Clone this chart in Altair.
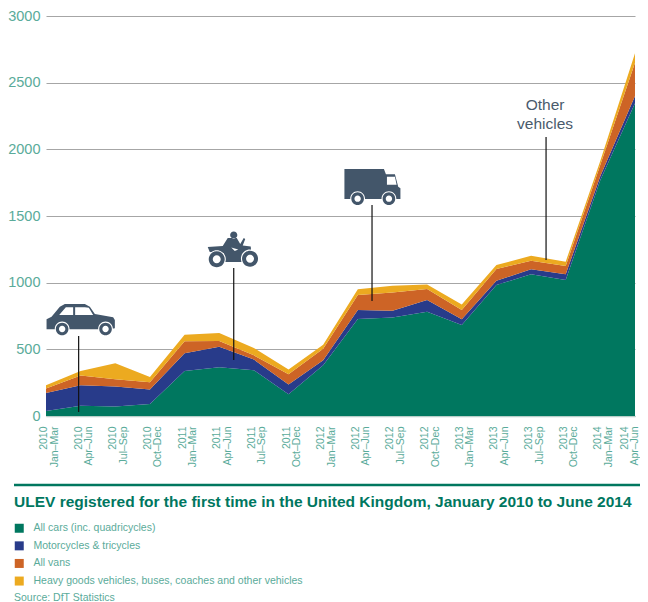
import altair as alt
import pandas as pd

periods = ["2010|Jan–Mar","2010|Apr–Jun","2010|Jul–Sep","2010|Oct–Dec",
           "2011|Jan–Mar","2011|Apr–Jun","2011|Jul–Sep","2011|Oct–Dec",
           "2012|Jan–Mar","2012|Apr–Jun","2012|Jul–Sep","2012|Oct–Dec",
           "2013|Jan–Mar","2013|Apr–Jun","2013|Jul–Sep","2013|Oct–Dec",
           "2014|Jan–Mar","2014|Apr–Jun"]
series_names = ["All cars (inc. quadricycles)", "Motorcycles & tricycles", "All vans",
                "Heavy goods vehicles, buses, coaches and other vehicles"]
colours = ["#00775f", "#283b8a", "#cd6426", "#ecaa20"]

cars = [37,77,72,90,338,366,343,164,380,727,738,782,682,982,1063,1020,1770,2345]
moto = [135,154,149,109,132,154,80,72,38,68,52,88,43,33,37,43,30,55]
vans = [34,72,55,55,90,42,32,77,87,112,137,82,70,87,65,62,85,250]
hgv  = [25,35,119,39,49,60,55,35,30,43,50,35,42,30,37,32,30,70]

LABEL = "#5aab9a"
DARK = "#43566a"
rows = []
for i, p in enumerate(periods):
    for k, vals in enumerate([cars, moto, vans, hgv]):
        rows.append({"period": p, "series": series_names[k], "value": vals[i], "k": k})
df = pd.DataFrame(rows)

xscale = alt.Scale(type="point", padding=0, domain=periods)
yscale = alt.Scale(domain=[0, 3000], nice=False)

area = alt.Chart(df).mark_area(opacity=1, interpolate="linear").encode(
    x=alt.X("period:O", scale=xscale, sort=periods, title=None,
            axis=alt.Axis(labelExpr="split(datum.label,'|')", labelAngle=270, labelAlign="right",
                          labelBaseline="middle", labelFont="Liberation Sans", labelFontSize=10.5,
                          labelLineHeight=10.5, labelColor=LABEL, labelPadding=10, labelOverlap=False,
                          labelBound=False, labelFlush=False, ticks=False, domainColor="#b9cfc9",
                          domainWidth=1.5, grid=False,
                          labelOffset={"condition": {"test": "datum.value == '2014|Apr–Jun'", "value": -11},
                                       "value": -2.5})),
    y=alt.Y("value:Q", stack="zero", scale=yscale, title=None,
            axis=alt.Axis(values=[0,500,1000,1500,2000,2500,3000], format="d", labelFont="Liberation Sans",
                          labelFontSize=14.5, labelColor=LABEL, labelPadding=6, ticks=False,
                          domain=False, grid=True, gridColor="#a6a6a6", gridWidth=1.2)),
    color=alt.Color("series:N", scale=alt.Scale(domain=series_names, range=colours),
                    legend=alt.Legend(title=None, orient="none", legendX=-32, legendY=507,
                                      symbolType="square", symbolSize=81, symbolStrokeWidth=0,
                                      labelFont="Liberation Sans", labelFontSize=10.5,
                                      labelColor=LABEL, rowPadding=6.6, labelLimit=400, labelOffset=9,
                                      padding=0, symbolOffset=0)),
    order=alt.Order("k:Q", sort="ascending"),
)

def circle(cx, cy, r):
    return f"M{cx-r} {cy}A{r} {r} 0 1 0 {cx+r} {cy}A{r} {r} 0 1 0 {cx-r} {cy}Z "

def wheels(centres, outer, hub):
    halo = "".join(circle(x, y, outer + 1.1) for x, y in centres)
    tyre = "".join(circle(x, y, outer) for x, y in centres)
    hubs = "".join(circle(x, y, hub) for x, y in centres)
    return [(halo, "white"), (tyre, DARK), (hubs, "white")]

car_body = "M-34.1 10.3L-34.1 .3L-29.1 -2.3L-20.8 -12.3L-15.8 -15L4.2 -15L9.2 -12.3L14.2 -5L32.5 -1.7L34.2 1L34.2 9.3L28.5 10.3Z"
car_win = "M-21.5 -4L-14.8 -11.7L-7.5 -11.7L-7.5 -4Z M-5.5 -11.7L4.2 -11.7L8.2 -11.3L12.5 -4L-5.5 -4Z"
truck_body = "M-28 -18L11.5 -18L13.5 -12.7L22.5 -12.7L25.8 -.3L28 1.3L28 12L-28 12Z"
truck_win = "M14.5 -10.3L22.5 -10.3L24.2 -2.3L14.5 -2.3Z"
moto_body = ("M-25 -3L-10 -4L-5 -12L4 -12L7.5 -6L11 -12L12.5 -11L10 -4.5L18 -3.5L18.3 0L11 3L9 12L-8 12L-9 3L-23 2Z "
             + circle(1, -15, 3.6))
moto_win = "M-1.5 -2.5L5.5 -.5L2 1Z"

icons = [
    ("2010|Apr–Jun", 0, 728, -2, 600, 30,
     [(car_body, DARK), (car_win, "white")] + wheels([(-18.5, 10), (24.9, 10)], 6.3, 3.2)),
    ("2011|Apr–Jun", 13.5, 1245, 14.5, 1110, 420,
     [(moto_body, DARK), (moto_win, "white")] + wheels([(-16, 9.3), (17.3, 8.7)], 8, 4)),
    ("2012|Apr–Jun", 14.6, 1718, 14.2, 1583, 863,
     [(truck_body, DARK), (truck_win, "white")] + wheels([(-14.8, 11.7), (16.5, 11.7)], 6.3, 3.2)),
]

layers = [area]
for period, dx, val, rdx, y1, y2, parts in icons:
    one = pd.DataFrame({"period": [period], "v": [val], "y1": [y1], "y2": [y2]})
    base = alt.Chart(one)
    layers.append(base.mark_rule(color="#111111", strokeWidth=1.2, xOffset=rdx).encode(
        x=alt.X("period:O", scale=xscale, sort=periods),
        y=alt.Y("y1:Q", scale=yscale), y2="y2:Q"))
    for path, col in parts:
        layers.append(base.mark_point(shape=path, size=4, filled=True, opacity=1, color=col,
                                      strokeWidth=0, xOffset=dx).encode(
            x=alt.X("period:O", scale=xscale, sort=periods),
            y=alt.Y("v:Q", scale=yscale)))

other = pd.DataFrame({"period": ["2013|Jul–Sep"], "v": [2330], "y1": [2093], "y2": [1170],
                      "t": ["Other\nvehicles"]})
layers.append(alt.Chart(other).mark_rule(color="#111111", strokeWidth=1.2, xOffset=15).encode(
    x=alt.X("period:O", scale=xscale, sort=periods),
    y=alt.Y("y1:Q", scale=yscale), y2="y2:Q"))
layers.append(alt.Chart(other).mark_text(font="Liberation Sans", fontSize=15.5, color="#4a5b6c",
                                         lineBreak="\n", lineHeight=19, align="center",
                                         baseline="middle", xOffset=14).encode(
    x=alt.X("period:O", scale=xscale, sort=periods),
    y=alt.Y("v:Q", scale=yscale), text="t:N"))

title_text = "ULEV registered for the first time in the United Kingdom, January 2010 to June 2014"
layers.append(alt.Chart(pd.DataFrame({"a": [1]})).mark_rule(color="#00775f", strokeWidth=2.5).encode(
    x=alt.value(-32), x2=alt.value(594), y=alt.value(469)))
layers.append(alt.Chart(pd.DataFrame({"t": [title_text]})).mark_text(
    font="Liberation Sans", fontSize=15.5, fontWeight="bold", color="#00775f", align="left",
    baseline="alphabetic").encode(x=alt.value(-32), y=alt.value(491), text="t:N"))
layers.append(alt.Chart(pd.DataFrame({"t": ["Source: DfT Statistics"]})).mark_text(
    font="Liberation Sans", fontSize=10.5, color=LABEL, align="left",
    baseline="alphabetic").encode(x=alt.value(-32), y=alt.value(585), text="t:N"))

chart = alt.layer(*layers).resolve_scale(x="shared", y="shared").properties(
    width=589, height=400,
    padding={"left": 38, "top": 8, "right": 5, "bottom": 186},
    autosize=alt.AutoSizeParams(type="none"),
).configure_view(stroke=None).configure_axis(labelFontWeight="normal")

chart.save("out.html", embed_options={"renderer": "svg", "actions": False})
